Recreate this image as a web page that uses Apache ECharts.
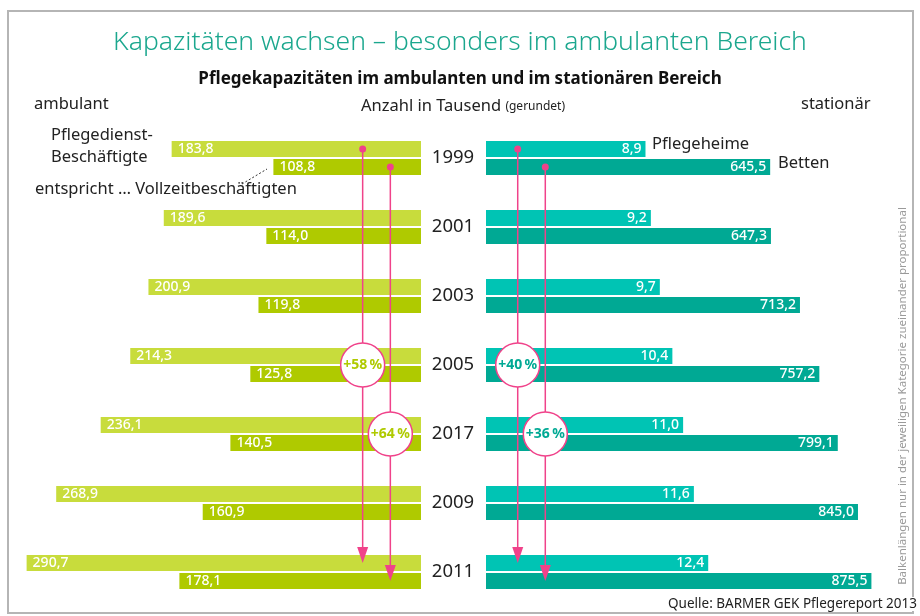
<!DOCTYPE html>
<html>
<head>
<meta charset="utf-8">
<script src="https://cdn.jsdelivr.net/npm/echarts@6/dist/echarts.min.js"></script>
<style>
  html, body { margin: 0; padding: 0; background: #fff; }
  #main { width: 920px; height: 616px; }
</style>
</head>
<body>
<div id="main"></div>
<script>
// Daten (Anzahl in Tausend)
var years = ['1999', '2001', '2003', '2005', '2017', '2009', '2011'];
var beschaeftigte = [183.8, 189.6, 200.9, 214.3, 236.1, 268.9, 290.7];
var vollzeit = [108.8, 114.0, 119.8, 125.8, 140.5, 160.9, 178.1];
var heime = [8.9, 9.2, 9.7, 10.4, 11.0, 11.6, 12.4];
var betten = [645.5, 647.3, 713.2, 757.2, 799.1, 845.0, 875.5];
// Pfeile: Zuwachs 1999 -> 2011
var pctLabels = ['+58\u2009%', '+64\u2009%', '+40\u2009%', '+36\u2009%'];

var FONT = '"Noto Sans", "DejaVu Sans", sans-serif';
var PINK = '#f0428a';
var GREEN1 = '#c8dc3c', GREEN2 = '#afca00';
var TEAL1 = '#00c4b4', TEAL2 = '#00a994';

function fmt(p) { return p.value.toFixed(1).replace('.', ','); }

var chart = echarts.init(document.getElementById('main'));

function barSeries(name, data, x, y, color, pos, dist) {
	return {
		name: name,
		type: 'bar',
		xAxisIndex: x,
		yAxisIndex: y,
		data: data,
		barWidth: 16,
		barGap: '12.5%',
		itemStyle: { color: color },
		label: {
			show: true,
			position: pos,
			distance: dist,
			color: '#fff',
			fontFamily: FONT,
			fontSize: 14,
			fontWeight: 500,
			formatter: fmt
		},
		silent: true
	};
}

var option = {
	backgroundColor: '#fff',
	animation: false,
	title: [
		{ text: 'Kapazitäten wachsen – besonders im ambulanten Bereich', left: 'center', top: 24,
		  textStyle: { fontFamily: FONT, fontSize: 26.5, fontWeight: 300, color: '#1ba78e' } },
		{ text: 'Pflegekapazitäten im ambulanten und im stationären Bereich', left: 'center', top: 66,
		  textStyle: { fontFamily: FONT, fontSize: 17, fontWeight: 'bold', color: '#111' } },
		{ text: 'Anzahl in Tausend {s|(gerundet)}', left: 356, top: 93,
		  textStyle: { fontFamily: FONT, fontSize: 16.5, fontWeight: 'normal', color: '#222',
		    rich: { s: { fontFamily: FONT, fontSize: 12, color: '#222' } } } },
		{ text: 'ambulant', left: 29, top: 91,
		  textStyle: { fontFamily: FONT, fontSize: 16.5, fontWeight: 'normal', color: '#222' } },
		{ text: 'stationär', left: 796, top: 91,
		  textStyle: { fontFamily: FONT, fontSize: 16.5, fontWeight: 'normal', color: '#222' } }
	],
	grid: [
		{ left: 14, right: 499, top: 123.5, height: 483 },
		{ left: 486, right: 29, top: 123.5, height: 483 }
	],
	xAxis: [
		{ gridIndex: 0, type: 'value', min: 0, max: 300, inverse: true, show: false },
		{ gridIndex: 1, type: 'value', min: 0, max: 22.6, show: false },
		{ gridIndex: 1, type: 'value', min: 0, max: 920, show: false }
	],
	yAxis: [
		{ gridIndex: 0, type: 'category', data: years, inverse: true, show: false },
		{ gridIndex: 1, type: 'category', data: years, inverse: true,
		  axisLine: { show: false }, axisTick: { show: false },
		  axisLabel: { margin: 33, align: 'center', fontFamily: FONT, fontSize: 18.5, color: '#222' } }
	],
	series: [
		barSeries('Pflegedienst-Beschäftigte', beschaeftigte, 0, 0, GREEN1, 'insideLeft', 6),
		barSeries('Vollzeitbeschäftigte', vollzeit, 0, 0, GREEN2, 'insideLeft', 6),
		barSeries('Pflegeheime', heime, 1, 1, TEAL1, 'insideRight', 4),
		barSeries('Betten', betten, 2, 1, TEAL2, 'insideRight', 4)
	]
};
chart.setOption(option);

// Pfeile und Kreise aus Achsenkoordinaten
var arrows = [
	{ x: 0, v: 43, y: 0, off: -9, circ: '2005', col: GREEN2, txt: pctLabels[0] },
	{ x: 0, v: 22.6, y: 0, off: 9, circ: '2017', col: GREEN2, txt: pctLabels[1] },
	{ x: 1, v: 1.77, y: 1, off: -9, circ: '2005', col: TEAL2, txt: pctLabels[2] },
	{ x: 2, v: 134.7, y: 1, off: 9, circ: '2017', col: TEAL2, txt: pctLabels[3] }
];
var lines = [], circles = [];
arrows.forEach(function(a) {
	var px = chart.convertToPixel({ xAxisIndex: a.x }, a.v);
	var y0 = chart.convertToPixel({ yAxisIndex: a.y }, years[0]) + a.off;
	var y1 = chart.convertToPixel({ yAxisIndex: a.y }, years[years.length - 1]) + a.off;
	var yc = chart.convertToPixel({ yAxisIndex: a.y }, a.circ);
	lines.push({ type: 'line', shape: { x1: px, y1: y0, x2: px, y2: y1 - 14 },
		style: { stroke: PINK, lineWidth: 1.5 }, z: 10 });
	lines.push({ type: 'circle', shape: { cx: px, cy: y0, r: 3.5 }, style: { fill: PINK }, z: 10 });
	lines.push({ type: 'polygon', shape: { points: [[px - 5.5, y1 - 16], [px + 5.5, y1 - 16], [px, y1]] },
		style: { fill: PINK }, z: 10 });
	circles.push({ type: 'circle', shape: { cx: px, cy: yc, r: 22 },
		style: { fill: '#fff', stroke: PINK, lineWidth: 1.5 }, z: 11 });
	circles.push({ type: 'text', x: px, y: yc, z: 12,
		style: { text: a.txt, fill: a.col, font: 'bold 14px ' + FONT, align: 'center', verticalAlign: 'middle' } });
});

chart.setOption({
	graphic: [
		{ type: 'rect', shape: { x: 8, y: 11, width: 905, height: 602 },
		  style: { fill: null, stroke: '#b5b5b5', lineWidth: 2 }, z: 0, silent: true },
		{ type: 'text', left: 51, top: 124, z: 5,
		  style: { text: 'Pflegedienst-\nBeschäftigte', font: '16.5px ' + FONT, fill: '#222', lineHeight: 22 } },
		{ type: 'text', left: 35, top: 181, z: 5,
		  style: { text: 'entspricht … Vollzeitbeschäftigten', font: '16.5px ' + FONT, fill: '#222' } },
		{ type: 'line', shape: { x1: 242, y1: 184, x2: 267, y2: 169 },
		  style: { stroke: '#333', lineWidth: 1, lineDash: [2, 2] }, z: 5 },
		{ type: 'text', left: 652, top: 136, z: 5,
		  style: { text: 'Pflegeheime', font: '16.5px ' + FONT, fill: '#222' } },
		{ type: 'text', left: 778, top: 155, z: 5,
		  style: { text: 'Betten', font: '16.5px ' + FONT, fill: '#222' } },
		{ type: 'text', x: 903, y: 396, rotation: Math.PI / 2, z: 5,
		  style: { text: 'Balkenlängen nur in der jeweiligen Kategorie zueinander proportional',
		    font: '11.5px ' + FONT, fill: '#9a9a9a', align: 'center', verticalAlign: 'middle' } },
		{ type: 'text', right: 3, top: 597, z: 5,
		  style: { text: 'Quelle: BARMER GEK Pflegereport 2013', font: '13.5px ' + FONT, fill: '#222',
		    backgroundColor: '#fff', padding: [0, 0, 0, 3] } }
	].concat(lines).concat(circles)
});
</script>
</body>
</html>
